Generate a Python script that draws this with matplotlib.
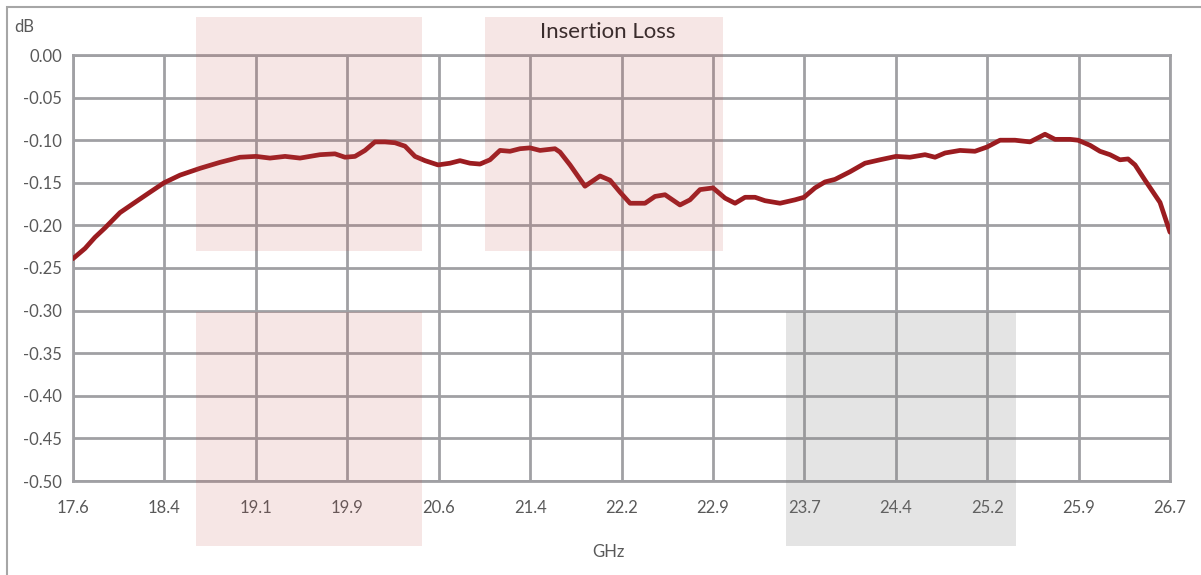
import matplotlib.pyplot as plt
from matplotlib.patches import Rectangle

plt.rcParams['font.family'] = ['Lato', 'DejaVu Sans']

# frequency (GHz) and insertion loss (dB)
freq = [17.600, 17.700, 17.782, 17.865, 17.990, 18.114, 18.239, 18.355, 18.488, 18.654,
        18.819, 18.985, 19.118, 19.234, 19.359, 19.483, 19.649, 19.773, 19.856, 19.939,
        20.022, 20.105, 20.188, 20.271, 20.354, 20.437, 20.520, 20.628, 20.727, 20.810,
        20.893, 20.976, 21.059, 21.142, 21.225, 21.308, 21.391, 21.474, 21.598, 21.640,
        21.723, 21.847, 21.972, 22.055, 22.138, 22.221, 22.345, 22.428, 22.511, 22.635,
        22.718, 22.801, 22.909, 23.009, 23.092, 23.175, 23.258, 23.340, 23.465, 23.589,
        23.664, 23.755, 23.838, 23.921, 24.046, 24.170, 24.294, 24.427, 24.543, 24.668,
        24.751, 24.834, 24.958, 25.082, 25.182, 25.290, 25.414, 25.539, 25.622, 25.663,
        25.746, 25.871, 25.937, 26.037, 26.119, 26.202, 26.285, 26.352, 26.410, 26.493,
        26.617, 26.700]
loss = [-0.239, -0.227, -0.214, -0.203, -0.185, -0.173, -0.161, -0.150, -0.141, -0.133,
        -0.126, -0.120, -0.119, -0.121, -0.119, -0.121, -0.117, -0.116, -0.120, -0.119,
        -0.112, -0.102, -0.102, -0.103, -0.107, -0.119, -0.124, -0.129, -0.127, -0.124,
        -0.127, -0.128, -0.123, -0.112, -0.113, -0.110, -0.109, -0.112, -0.110, -0.114,
        -0.129, -0.154, -0.142, -0.147, -0.161, -0.174, -0.174, -0.166, -0.164, -0.176,
        -0.170, -0.158, -0.156, -0.168, -0.174, -0.167, -0.167, -0.171, -0.174, -0.170,
        -0.167, -0.156, -0.149, -0.146, -0.137, -0.127, -0.123, -0.119, -0.120, -0.117,
        -0.120, -0.115, -0.112, -0.113, -0.108, -0.100, -0.100, -0.102, -0.096, -0.093,
        -0.099, -0.099, -0.100, -0.106, -0.113, -0.117, -0.123, -0.122, -0.129, -0.147,
        -0.173, -0.208]

x_labels = ['17.6', '18.4', '19.1', '19.9', '20.6', '21.4', '22.2', '22.9',
            '23.7', '24.4', '25.2', '25.9', '26.7']
y_ticks = [0.0, -0.05, -0.10, -0.15, -0.20, -0.25, -0.30, -0.35, -0.40, -0.45, -0.50]

# highlight boxes in figure pixels (left, top, right, bottom), colour, alpha
boxes = [(196, 17, 422, 251, '#c0504d', 0.14),
         (196, 312, 422, 546, '#c0504d', 0.14),
         (485, 17, 723, 251, '#c0504d', 0.14),
         (786, 312, 1016, 546, '#808080', 0.21)]

W, H = 1201, 575
fig = plt.figure(figsize=(W / 100, H / 100), dpi=100)
ax = fig.add_axes([73 / W, 1 - 481 / H, (1170 - 73) / W, (481 - 55) / H])

grid_col = '#a0a0a4'
ax.set_xlim(17.6, 26.7)
ax.set_ylim(-0.5, 0.0)
step = (26.7 - 17.6) / 12
ax.set_xticks([17.6 + i * step for i in range(13)])
ax.set_xticklabels(x_labels)
ax.set_yticks(y_ticks)
ax.set_yticklabels(['%.2f' % v for v in y_ticks])
ax.grid(True, color=grid_col, linewidth=2)
ax.set_axisbelow(True)
for s in ax.spines.values():
    s.set_color(grid_col)
    s.set_linewidth(2)
ax.tick_params(length=0, labelsize=12, colors='#595959', pad=8)
ax.tick_params(axis='x', pad=14)

for (l, t, r, b, c, a) in boxes:
    fig.patches.append(Rectangle((l / W, 1 - b / H), (r - l) / W, (b - t) / H,
                                 transform=fig.transFigure, facecolor=c, alpha=a,
                                 edgecolor='none', zorder=1.5))

ax.plot(freq, loss, color='#9b1c20', linewidth=3.4, zorder=5,
        solid_capstyle='round', solid_joinstyle='round')

fig.text(608 / W, 1 - 32 / H, 'Insertion Loss', ha='center', va='center',
         fontsize=16, color='#3a2c2c')
fig.text(14 / W, 1 - 27 / H, 'dB', ha='left', va='center', fontsize=12, color='#595959')
fig.text(608 / W, 1 - 552 / H, 'GHz', ha='center', va='center', fontsize=12, color='#595959')

# outer chart border
fig.patches.append(Rectangle((7 / W, -0.01), 1.1, 1 - 7 / H + 0.01, transform=fig.transFigure,
                             facecolor='none', edgecolor='#a6a6a6', linewidth=1.5))

fig.savefig('out.png', dpi=100)
